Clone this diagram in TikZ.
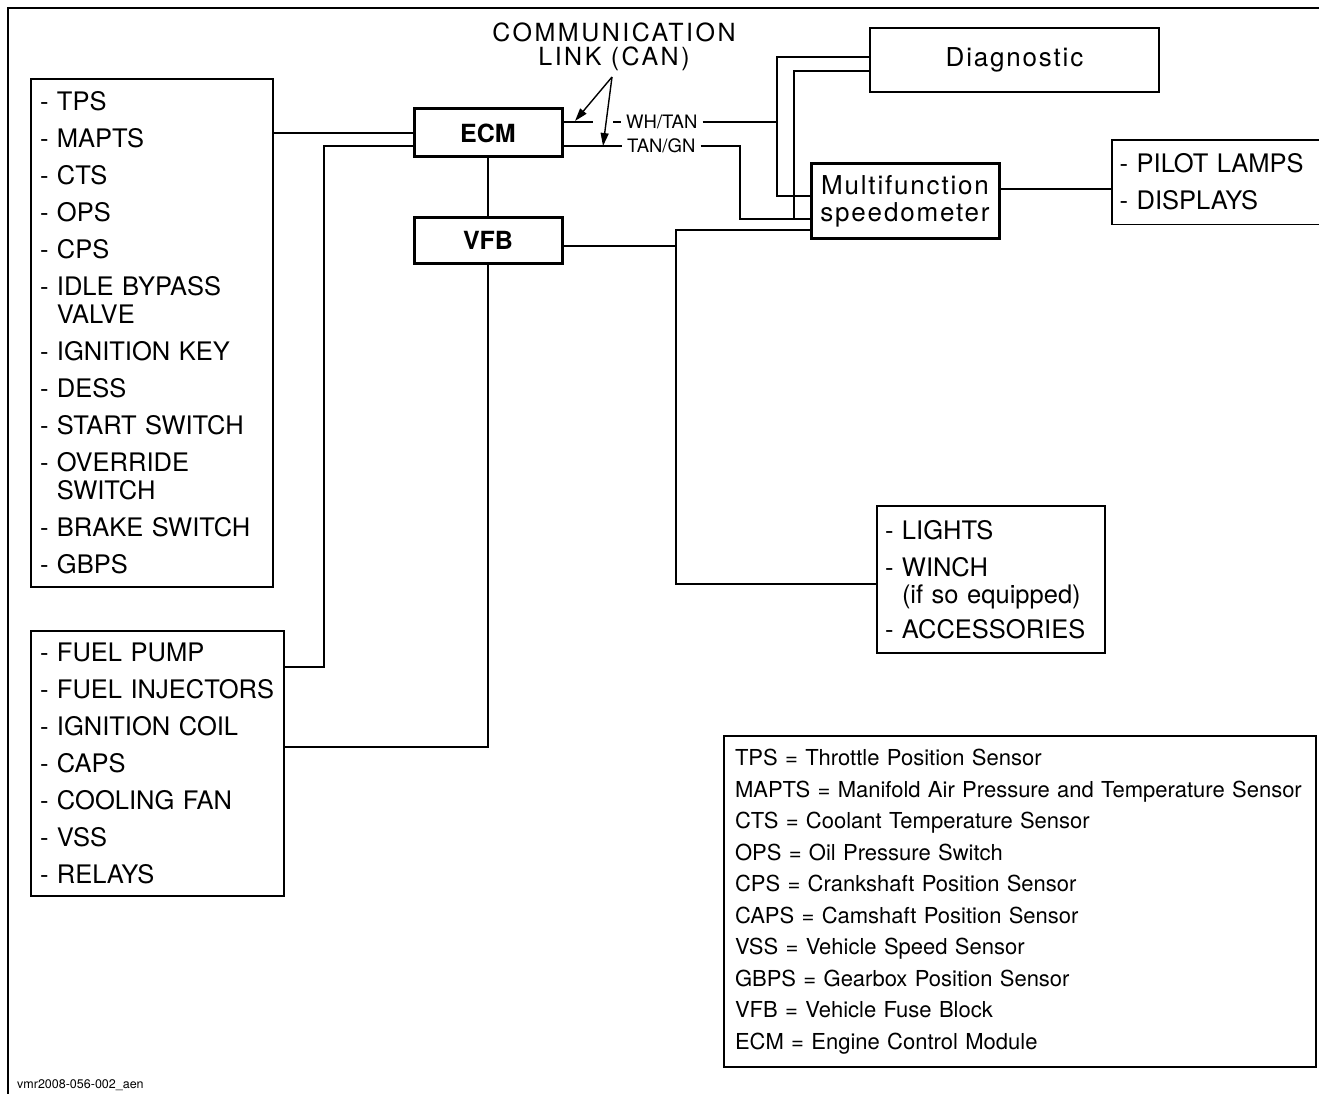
\documentclass[tikz,border=0pt]{standalone}
\usepackage{fontspec}
\setmainfont{TeX Gyre Heros}
\newfontfamily\spacedfont[LetterSpace=7]{TeX Gyre Heros}
\newfontfamily\widefont[LetterSpace=10]{TeX Gyre Heros}
\usetikzlibrary{arrows.meta}
\begin{document}
\begin{tikzpicture}[x=1pt,y=-1pt,
  wire/.style={line width=1.3pt},
  listbox/.style={draw, line width=1.4pt, align=left, inner xsep=9pt, inner ysep=0pt,
    font=\fontsize{25.5}{37}\selectfont},
  modbox/.style={draw, line width=3pt, inner sep=0pt, font=\fontsize{25}{30}\selectfont\bfseries},
  spbox/.style={draw, inner sep=0pt, align=center, font=\fontsize{26}{27}\spacedfont},
  wirelabel/.style={inner sep=0pt, anchor=west, font=\fontsize{18.5}{20}\selectfont},
  legendbox/.style={draw, line width=1.4pt, align=left, inner xsep=11pt, inner ysep=0pt,
    font=\fontsize{22}{31.5}\selectfont},
  canarrow/.style={line width=1.4pt, -{Triangle[length=13pt,width=8pt]}}
]
\useasboundingbox (0,0) rectangle (1319,1094);
% frame
\draw[line width=2pt] (8,1094) -- (8,8) -- (1319,8);

% left lists
\node[listbox, text width=224pt, minimum width=242pt, minimum height=508pt] (tps) at (152,333)
{- TPS\\- MAPTS\\- CTS\\- OPS\\- CPS\\- IDLE BYPASS\\[-9pt]\hphantom{- }VALVE\\- IGNITION KEY\\- DESS\\- START SWITCH\\- OVERRIDE\\[-9pt]\hphantom{- }SWITCH\\- BRAKE SWITCH\\- GBPS};
\node[listbox, text width=235pt, minimum width=253pt, minimum height=265pt] (fuel) at (157.5,763.5)
{- FUEL PUMP\\- FUEL INJECTORS\\- IGNITION COIL\\- CAPS\\- COOLING FAN\\- VSS\\- RELAYS};

% modules
\node[modbox, minimum width=148pt, minimum height=48pt] (ecm) at (488,133) {ECM};
\node[modbox, minimum width=148pt, minimum height=46pt] (vfb) at (488,240) {VFB};
\node[spbox, line width=2.2pt, minimum width=289pt, minimum height=64pt] (diag) at (1014.5,60) {Diagnostic};
\node[spbox, line width=3pt, minimum width=188pt, minimum height=74pt] (speedo) at (905,201) {Multifunction\\speedometer};

% right lists
\node[listbox, draw=none, inner xsep=7pt, text width=193pt, minimum width=207pt, minimum height=83pt, anchor=north west] (pilot) at (1112,140)
{- PILOT LAMPS\\- DISPLAYS};
\draw[line width=1.4pt] (pilot.north east) -- (pilot.north west) -- (pilot.south west) -- (pilot.south east);
\node[listbox, inner xsep=8pt, text width=212pt, minimum width=228pt, minimum height=147pt] (lights) at (991,579.5)
{- LIGHTS\\- WINCH\\[-10pt]\hphantom{- }(if so equipped)\\[-2pt]- ACCESSORIES};

% legend
\node[legendbox, text width=570pt, minimum width=592pt, minimum height=331pt] (legend) at (1020,901.5)
{TPS = Throttle Position Sensor\\
MAPTS = Manifold Air Pressure and Temperature Sensor\\
CTS = Coolant Temperature Sensor\\
OPS = Oil Pressure Switch\\
CPS = Crankshaft Position Sensor\\
CAPS = Camshaft Position Sensor\\
VSS = Vehicle Speed Sensor\\
GBPS = Gearbox Position Sensor\\
VFB = Vehicle Fuse Block\\
ECM = Engine Control Module};

% CAN labels
\node[inner sep=0pt, align=center, font=\fontsize{25}{23.5}\widefont] (can) at (614,47) {COMMUNICATION\\LINK (CAN)};
\node[wirelabel] (wh) at (626,122) {WH/TAN};
\node[wirelabel] (tn) at (627,146) {TAN/GN};
\coordinate (canp) at (612,77);
\coordinate (whgapA) at (593,122);
\coordinate (whgapB) at (613,122);

% wires
\draw[wire] (tps.east |- ecm.west) -- (ecm.west);
\draw[wire] (ecm.west |- 0,146) -| (324,667) -- (fuel.east |- 0,667);
\draw[wire] (ecm.south) -- (vfb.north);
\draw[wire] (vfb.south) -- (vfb.south |- 0,747) -- (fuel.east |- 0,747);
\draw[wire] (ecm.east |- whgapA) -- (whgapA);
\draw[wire] (whgapB) -- ([xshift=-5pt]wh.west);
\draw[wire] (ecm.east |- 0,146) -- ([xshift=-5pt]tn.west);
\draw[wire] ([xshift=5pt]wh.east) -- (777,122);
\draw[wire] (diag.west |- 0,57) -| (777,196) -- (speedo.west |- 0,196);
\draw[wire] ([xshift=5pt]tn.east) -| (740,219) -- (speedo.west |- 0,219);
\draw[wire] (diag.west |- 0,71) -| (794,219);
\draw[wire] (vfb.east |- 0,246) -| (676,230) -- (speedo.west |- 0,230);
\draw[wire] (676,246) -- (676,584) -- (lights.west |- 0,584);
\draw[wire] (speedo.east |- 0,189) -- (pilot.west |- 0,189);

% arrows
\draw[canarrow] (canp) -- (575,121);
\draw[canarrow] (canp) -- (603,146);

% footer
\node[anchor=west, inner sep=0pt, font=\fontsize{12.5}{14}\selectfont] (foot) at (17,1085) {vmr2008-056-002\_aen};
\end{tikzpicture}
\end{document}
